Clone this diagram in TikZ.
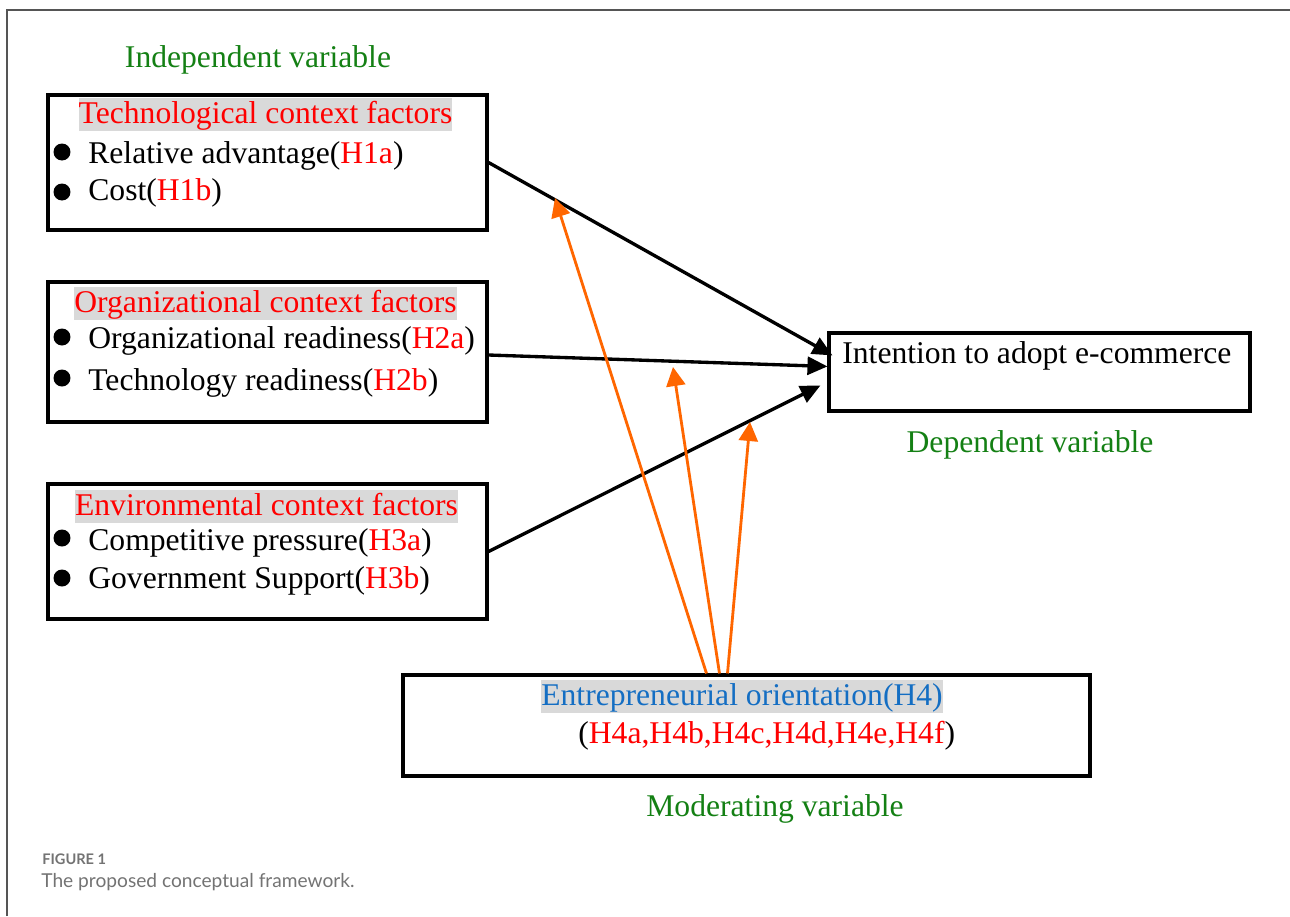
\documentclass[tikz,border=0pt]{standalone}
\usepackage{fontspec}
\setmainfont{Liberation Serif}
\newfontfamily\capfont{Lato}
\usetikzlibrary{arrows.meta,calc}
\definecolor{hypred}{RGB}{255,0,0}
\definecolor{vargreen}{RGB}{20,128,20}
\definecolor{eoblue}{RGB}{20,110,195}
\definecolor{modorange}{RGB}{255,102,0}
\definecolor{hlgray}{RGB}{217,217,217}
\definecolor{framegray}{RGB}{85,85,85}
\definecolor{capgray}{RGB}{115,115,115}
\begin{document}
\begin{tikzpicture}[x=0.02cm,y=-0.02cm,
  box/.style={draw=black, line width=1.8pt, rectangle, inner sep=0pt},
  txt/.style={anchor=base west, inner sep=0pt, font=\fontsize{18}{20}\selectfont},
  ttl/.style={anchor=base, inner xsep=0pt, inner ysep=0pt, fill=hlgray,
    text height=14.5pt, text depth=4.5pt, text=hypred, font=\fontsize{18}{20}\selectfont},
  lbl/.style={anchor=base, inner sep=0pt, text=vargreen, font=\fontsize{18}{20}\selectfont},
  dot/.style={circle, fill=black, inner sep=0pt, minimum size=0.34cm},
  effect/.style={line width=1.9pt, -{Triangle[length=0.4cm,width=0.36cm]}},
  moder/.style={line width=1.6pt, draw=modorange, -{Triangle[length=0.38cm,width=0.38cm]}}]
\useasboundingbox (0,0) rectangle (1290,916);

% page frame
\draw[framegray, line width=1.1pt] (7,916) -- (7,10) -- (1290,10);

% independent variables
\node[lbl] (indep) at (258,67) {Independent variable};

\node[box, minimum width=8.78cm, minimum height=2.70cm] (tech) at (267.5,162.5) {};
\node[ttl] (techT) at (265.5,123) {Technological context factors};
\node[dot] (tb1) at (62,152) {};
\node[txt] (tl1) at (88,163) {Relative advantage(\textcolor{hypred}{H1a})};
\node[dot] (tb2) at (62,192) {};
\node[txt] (tl2) at (88,200) {Cost(\textcolor{hypred}{H1b})};

\node[box, minimum width=8.78cm, minimum height=2.80cm] (org) at (267.5,352) {};
\node[ttl] (orgT) at (265.5,312) {Organizational context factors};
\node[dot] (ob1) at (62,337) {};
\node[txt] (ol1) at (88,348) {Organizational readiness(\textcolor{hypred}{H2a})};
\node[dot] (ob2) at (62,378) {};
\node[txt] (ol2) at (88,390) {Technology readiness(\textcolor{hypred}{H2b})};

\node[box, minimum width=8.78cm, minimum height=2.70cm] (env) at (267.5,551.5) {};
\node[ttl] (envT) at (266.5,515) {Environmental context factors};
\node[dot] (eb1) at (62,538) {};
\node[txt] (el1) at (88,550) {Competitive pressure(\textcolor{hypred}{H3a})};
\node[dot] (eb2) at (62,578) {};
\node[txt] (el2) at (88,588) {Government Support(\textcolor{hypred}{H3b})};

% dependent variable
\node[box, minimum width=8.42cm, minimum height=1.56cm] (dv) at (1039.5,372) {};
\node[txt] (dvT) at (842,363) {Intention to adopt e-commerce};
\node[lbl] (dep) at (1030,452) {Dependent variable};

% moderating variable
\node[box, minimum width=13.74cm, minimum height=2.02cm] (eo) at (746.5,725.5) {};
\node[ttl, anchor=base west, text=eoblue] (eoT) at (541,705) {Entrepreneurial orientation(H4)};
\node[txt] (eoH) at (578,743) {(\textcolor{hypred}{H4a,H4b,H4c,H4d,H4e,H4f})};
\node[lbl] (mod) at (775,816) {Moderating variable};

% direct effects
\draw[effect] (tech.east) -- ($(dv.north west)+(5,24)$);
\draw[effect] ($(org.east)+(0,3)$) -- ($(dv.north west)+(0,35)$);
\draw[effect] (env.east) -- ($(dv.north west)+(-7,54)$);

% moderation arrows
\coordinate (m1) at (555,198);
\coordinate (m2) at (673,367);
\coordinate (m3) at (750,422);
\draw[moder] ($(eo.north west)+(305,0)$) -- (m1);
\draw[moder] ($(eo.north west)+(318,0)$) -- (m2);
\draw[moder] ($(eo.north west)+(326,0)$) -- (m3);

% caption
\node[anchor=base west, inner sep=0pt, text=capgray, font=\capfont\bfseries\fontsize{8.3}{10}\selectfont] (fig) at (42,864) {FIGURE 1};
\node[anchor=base west, inner sep=0pt, text=capgray, font=\capfont\fontsize{10.9}{13}\selectfont] (cap) at (41,887) {The proposed conceptual framework.};
\end{tikzpicture}
\end{document}
